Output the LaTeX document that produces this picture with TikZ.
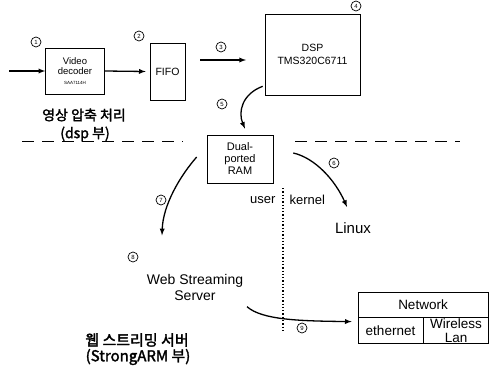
\documentclass[tikz,border=0pt]{standalone}
\usepackage{fontspec}
\setmainfont{Liberation Sans}
\newfontfamily\kr[AutoFakeBold=2]{Noto Sans CJK KR}
\usepackage{tikz}
\usetikzlibrary{arrows,calc,positioning}

\tikzstyle{bloc}=[draw, line width=0.6pt, inner sep=0pt, align=center]
\tikzstyle{num}=[circle, draw, line width=0.7pt, inner sep=0pt, minimum size=10pt, font=\fontsize{6}{6}\selectfont]
\tikzstyle{fleche}=[-latex, line width=1.3pt, >=latex]
\tikzstyle{titre}=[align=center, font=\kr\bfseries\fontsize{14}{17}\selectfont]

\begin{document}
\begin{tikzpicture}[x=1pt, y=-1pt]
\useasboundingbox (0,0) rectangle (492,366);

% blocs dsp
\node[bloc, minimum width=59pt, minimum height=46pt, font=\fontsize{9.5}{10.5}\selectfont] (dec) at (75,71) {Video\\decoder\\[-1pt]{\fontsize{4.5}{5}\selectfont SAA7114H}};
\node[bloc, minimum width=35pt, minimum height=57pt, font=\fontsize{10.5}{12}\selectfont] (fifo) at (167.5,71.5) {FIFO};
\node[bloc, minimum width=95pt, minimum height=81pt, font=\fontsize{10.5}{12.5}\selectfont] (dsp) at (312.5,54.5) {DSP\\TMS320C6711};
\node[bloc, minimum width=66pt, minimum height=48pt, font=\fontsize{11}{12}\selectfont] (ram) at (240,159) {Dual-\\ported\\RAM};

% numeros
\node[num] (n1) at (36,42) {1};
\node[num] (n2) at (139,36) {2};
\node[num] (n3) at (221,47) {3};
\node[num] (n4) at (356,6) {4};
\node[num] (n5) at (222,104) {5};
\node[num] (n6) at (334,163) {6};
\node[num] (n7) at (161,200) {7};
\node[num] (n8) at (133,257) {8};
\node[num] (n9) at (302,328) {9};

% texte
\node[titre] (t1) at (84,115) {영상 압축 처리};
\node[titre] (t2) at (85,134) {(dsp 부)};
\node[titre, font=\kr\bfseries\fontsize{15}{18}\selectfont] (t3) at (137,340) {웹 스트리밍 서버};
\node[titre, font=\kr\bfseries\fontsize{15}{18}\selectfont] (t4) at (138,357) {(StrongARM 부)};
\node[font=\fontsize{14}{16}\selectfont, align=center] (srv) at (195,287) {Web Streaming\\Server};
\node[font=\fontsize{15}{17}\selectfont] (linux) at (353,228) {Linux};
\node[font=\fontsize{13}{15}\selectfont, anchor=east] (user) at (279,200) {user};
\node[font=\fontsize{13}{15}\selectfont, anchor=west] (kernel) at (286,200) {kernel};

% reseau
\node[bloc, minimum width=130pt, minimum height=25pt, font=\fontsize{13.5}{15}\selectfont] (net) at (423,304.5) {Network};
\node[bloc, minimum width=65pt, minimum height=26pt, font=\fontsize{13.5}{15}\selectfont, anchor=north west] (eth) at (net.south west) {ethernet};
\node[bloc, minimum width=65pt, minimum height=26pt, font=\fontsize{13.5}{14}\selectfont, anchor=north west] (wlan) at (eth.north east) {Wireless\\Lan};

% separations
\draw[dash pattern=on 12pt off 8pt, line width=1pt] (22,142) -- (183,142);
\draw[dash pattern=on 12pt off 8pt, line width=1pt] (295,142) -- (460,142);
\draw[dotted, line width=1.3pt] (283,188) -- (283,332);

% fleches
\coordinate (in) at (9,71);
\coordinate (a3) at (200,60);
\coordinate (b3) at (246,60);
\draw[fleche] (in) -- (dec.west);
\draw[fleche] (dec.east) -- ($(fifo.west)+(-4,0)$);
\draw[fleche] (a3) -- (b3);
\draw[fleche] ($(dsp.south west)+(-2,-9)$) .. controls (242,94) and (238,112) .. ($(ram.north)+(5,-6)$);
\draw[fleche] ($(ram.west)+(-10,-2)$) .. controls (180,176) and (163,205) .. ($(srv.north)+(-33,-35)$);
\draw[fleche] ($(ram.east)+(20,-6)$) .. controls (315,158) and (335,180) .. ($(linux.north)+(-6,-12)$);
\draw[fleche] ($(srv.south)+(52,3)$) .. controls (262,320) and (300,321) .. ($(eth.west)+(-6,-9)$);

\end{tikzpicture}
\end{document}
